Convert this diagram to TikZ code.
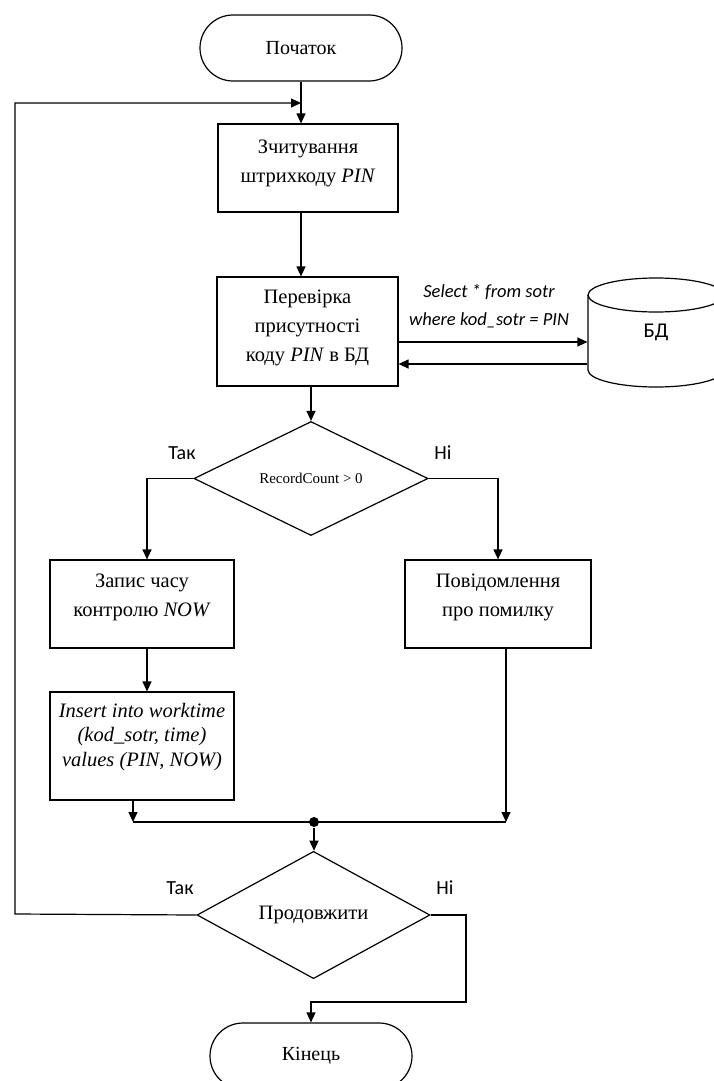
\documentclass[tikz,border=0pt]{standalone}
\usepackage{fontspec}
\setmainfont{Liberation Serif}
\newfontfamily\calib{Carlito}
\usetikzlibrary{shapes.geometric,shapes.misc,arrows.meta}
\begin{document}
\begin{tikzpicture}[x=1pt,y=-1pt,
  line width=1.2pt,
  arr/.style={-{Triangle[length=10pt,width=9pt]}},
  box/.style={draw,rectangle,inner sep=0pt},
  term/.style={draw,rounded rectangle,minimum width=202pt,minimum height=66pt,inner sep=0pt,font=\fontsize{20}{24}\selectfont},
  dec/.style={draw,diamond,inner sep=0pt},
  txt/.style={align=center,font=\fontsize{20.5}{29}\selectfont},
  lab/.style={font=\calib\fontsize{20}{24}\selectfont},
]
\useasboundingbox (0,0) rectangle (714,1081);
\clip (0,0) rectangle (714,1081);

% nodes
\node[term] (start) at (301,48) {Початок};
\node[box,minimum width=180pt,minimum height=88pt] (read) at (308,168) {};
\node[txt] (read-t) at ([yshift=5pt]read.center) {Зчитування\\штрихкоду \textit{PIN}};
\node[box,minimum width=181pt,minimum height=109pt] (check) at (307.5,331.5) {};
\node[txt] (check-t) at ([yshift=3.5pt]check.center) {Перевірка\\присутності\\коду \textit{PIN} в БД};
\node[dec,minimum width=234pt,minimum height=107pt,font=\fontsize{15}{18}\selectfont] (d1) at (311,478.5) {RecordCount > 0};
\node[box,minimum width=184pt,minimum height=88pt] (yes) at (142,604) {};
\node[txt] (yes-t) at ([yshift=6.5pt]yes.center) {Запис часу\\контролю \textit{NOW}};
\node[box,minimum width=186pt,minimum height=88pt] (no) at (498,604) {};
\node[txt] (no-t) at ([yshift=6.5pt]no.center) {Повідомлення\\про помилку};
\node[box,minimum width=184pt,minimum height=108pt] (ins) at (142,746) {};
\node[txt,font=\fontsize{20.5}{24.5}\selectfont\itshape] (ins-t) at ([yshift=9pt]ins.center) {Insert into worktime\\(kod\_sotr, time)\\values (PIN, NOW)};
\node[circle,fill,inner sep=0pt,minimum size=10pt] (dot) at (314,822) {};
\node[dec,minimum width=233pt,minimum height=106pt,font=\fontsize{20.5}{24}\selectfont] (d2) at (313.5,915) {Продовжити};
\node[term] (end) at (311,1056) {Кінець};

% database cylinder
\draw (656,295) ellipse [x radius=68pt, y radius=17pt];
\draw (588,295) -- (588,370) arc[start angle=180,end angle=360,x radius=68pt,y radius=17pt] -- (724,295);
\node[font=\calib\fontsize{21}{24}\selectfont,minimum width=136pt,minimum height=110pt,inner sep=0pt] (db) at (656,332) {БД};

% labels
\node[lab] (t1) at (182,453) {Так};
\node[lab] (n1) at (443,453) {Ні};
\node[lab] (t2) at (180,888) {Так};
\node[lab] (n2) at (445,888) {Ні};
\node[font=\calib\itshape\fontsize{18.5}{28}\selectfont,align=center] (sql) at (489,306) {Select * from sotr\\where kod\_sotr = PIN};

% connectors
\coordinate (loopin) at (301,103);
\coordinate (lc1) at (15,914);
\coordinate (lc2) at (15,103);
\draw[arr] (start.south) -- (start.south |- read.north);
\draw[arr] (d2.west) -- (lc1) -- (lc2) -- (loopin);
\draw[arr] (start.south |- read.south) -- (start.south |- check.north);
\coordinate (ya) at (0,342);
\coordinate (yb) at (0,364);
\draw[arr] (check.east |- ya) -- (db.west |- ya);
\draw[arr] (db.west |- yb) -- (check.east |- yb);
\draw[arr] (d1.north |- check.south) -- (d1.north);
\draw[arr] (d1.west) -| ([xshift=5pt]yes.north);
\draw[arr] (d1.east) -| (no.north);
\draw[arr] ([xshift=5pt]yes.south) -- ([xshift=5pt]ins.north);
\coordinate (mL) at (133,822);
\coordinate (mR) at (506,822);
\draw[arr] (mL |- ins.south) -- (mL);
\draw[arr] (mR |- no.south) -- (mR);
\draw (mL) -- (mR);
\draw[arr] (dot) -- (dot |- d2.north);
\coordinate (rc) at (466,1002);
\draw[arr] (d2.east) -| (rc) -| (end.north);
\end{tikzpicture}
\end{document}
